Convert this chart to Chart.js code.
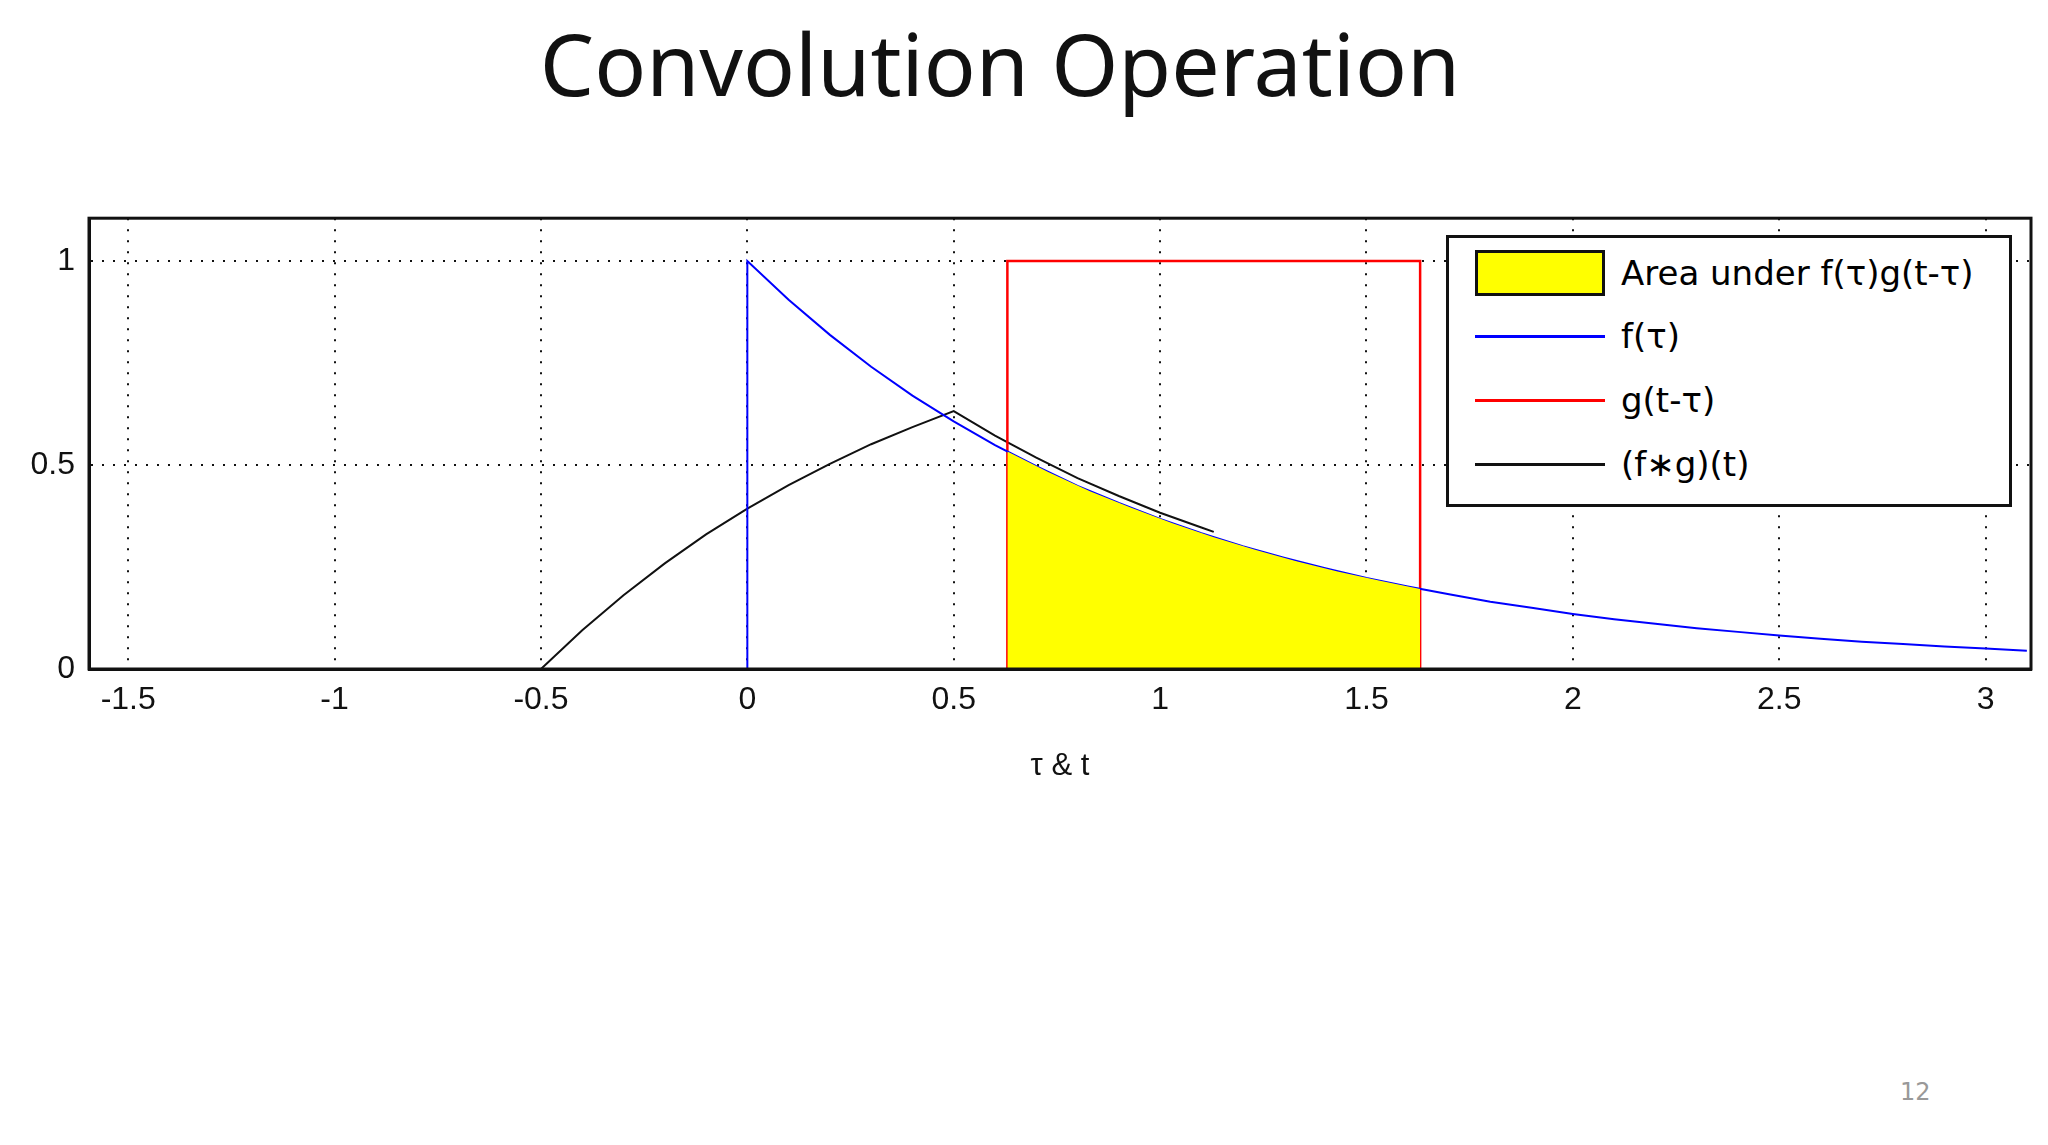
<!DOCTYPE html>
<html><head><meta charset="utf-8">
<script src="https://cdn.jsdelivr.net/npm/chart.js@4"></script>
<style>
body{margin:0;background:#fff;width:2048px;height:1145px;position:relative;overflow:hidden;font-family:"DejaVu Sans",sans-serif}
#title{position:absolute;top:4px;left:0;width:2000px;text-align:center;font-size:86px;font-family:"Noto Sans",sans-serif;color:#111}
#wrap{position:absolute;left:0;top:185px;width:2036px;height:604px}
#legend{position:absolute;left:1446px;top:235px;width:560px;height:266px;border:3px solid #111;background:#fff;font-size:34px}
.row{position:absolute;left:26px;display:flex;align-items:center}
.sw{width:130px;margin-right:16px}
#pg{position:absolute;left:1900px;top:1078px;font-size:24px;color:#999}
</style></head><body>
<div id="title">Convolution Operation</div>
<div id="wrap"><canvas id="c"></canvas></div>
<div id="legend">
 <div class="row" style="top:12px"><div class="sw" style="height:46px;background:#ffff00;border:3px solid #111;box-sizing:border-box"></div>Area under f(τ)g(t-τ)</div>
 <div class="row" style="top:78px"><div class="sw" style="height:3px;background:#0000ff"></div>f(τ)</div>
 <div class="row" style="top:142px"><div class="sw" style="height:3px;background:#ff0000"></div>g(t-τ)</div>
 <div class="row" style="top:206px"><div class="sw" style="height:3px;background:#111"></div>(f∗g)(t)</div>
</div>
<div id="pg">12</div>
<script>
// values
const fTau = [0,0,0.1,0.2,0.3,0.4,0.5,0.6,0.7,0.8,0.9,1.0,1.1,1.2,1.3,1.4,1.5,1.6,1.7,1.8,1.9,2.0,2.1,2.2,2.3,2.4,2.5,2.6,2.7,2.8,2.9,3.0,3.1];
const fVal = [0,1,0.905,0.819,0.741,0.670,0.607,0.549,0.497,0.449,0.407,0.368,0.333,0.301,0.273,0.247,0.223,0.202,0.183,0.165,0.150,0.135,0.122,0.111,0.100,0.091,0.082,0.074,0.067,0.061,0.055,0.050,0.045];
const gTau = [0.63,0.63,1.63,1.63];
const gVal = [0,1,1,0];
const areaTau = [0.63,0.73,0.83,0.93,1.03,1.13,1.23,1.33,1.43,1.53,1.63];
const areaVal = [0.533,0.482,0.436,0.395,0.357,0.323,0.292,0.264,0.239,0.217,0.196];
const convT = [-0.5,-0.4,-0.3,-0.2,-0.1,0,0.1,0.2,0.3,0.4,0.5,0.6,0.7,0.8,0.9,1.0,1.1,1.13];
const convVal = [0,0.095,0.181,0.259,0.330,0.393,0.451,0.503,0.551,0.593,0.632,0.572,0.518,0.468,0.424,0.383,0.347,0.336];
const xTicks = [-1.5,-1,-0.5,0,0.5,1,1.5,2,2.5,3];
const yTicks = [0,0.5,1];

const pts = (xs, ys) => xs.map((x,i) => ({x, y: ys[i]}));
const gridOpts = {color:'#111', lineWidth:2, drawTicks:false};
new Chart(document.getElementById('c'), {
  type:'scatter',
  data:{datasets:[
    {data:pts(areaTau,areaVal), showLine:true, fill:'origin', backgroundColor:'#ffff00', borderWidth:0, pointRadius:0},
    {data:pts(fTau,fVal), showLine:true, borderColor:'#0000ff', borderWidth:2, pointRadius:0},
    {data:pts(gTau,gVal), showLine:true, borderColor:'#ff0000', borderWidth:2.5, pointRadius:0},
    {data:pts(convT,convVal), showLine:true, borderColor:'#111', borderWidth:2, pointRadius:0}
  ]},
  options:{
    responsive:true, maintainAspectRatio:false, animation:false,
    layout:{padding:{top:10,right:5}},
    plugins:{legend:{display:false}, tooltip:{enabled:false}},
    scales:{
      x:{type:'linear', min:-1.595, max:3.11,
        afterBuildTicks:s=>{s.ticks = xTicks.map(v=>({value:v}));},
        afterFit:s=>{s.height = 120;},
        grid:gridOpts,
        border:{color:'#111', width:3, dash:[2,9]},
        ticks:{color:'#111', font:{size:32}, padding:12, callback:v=>String(v)},
        title:{display:true, text:'τ & t', color:'#111', font:{size:31}, padding:{top:0}}},
      y:{type:'linear', min:0, max:1.105,
        afterBuildTicks:s=>{s.ticks = yTicks.map(v=>({value:v}));},
        afterFit:s=>{s.width = 89;},
        grid:gridOpts,
        border:{color:'#111', width:3, dash:[2,9]},
        ticks:{color:'#111', font:{size:32}, padding:14, callback:v=>String(v)}}
    }
  },
  plugins:[{id:'frame', afterDraw(ch){const a=ch.chartArea,c=ch.ctx;c.save();c.strokeStyle='#111';c.lineWidth=3;c.strokeRect(a.left,a.top,a.right-a.left,a.bottom-a.top);c.restore();}}]
});
</script>
</body></html>
